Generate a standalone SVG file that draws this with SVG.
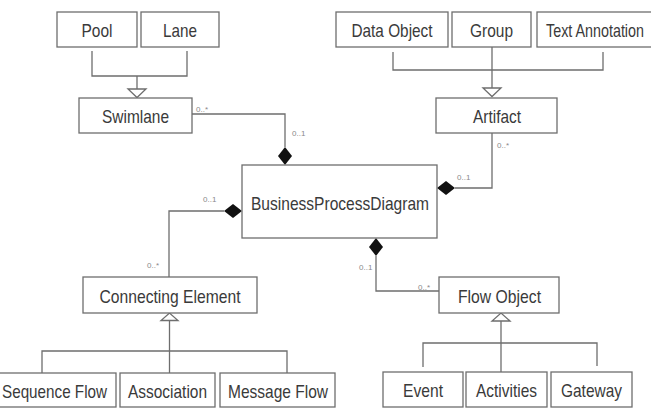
<svg xmlns="http://www.w3.org/2000/svg" width="651" height="417" viewBox="0 0 651 417">
<defs>
<style>
.box{fill:#fff;stroke:#6e6e6e;stroke-width:1.3}
.t{font-family:"Liberation Sans",Arial,sans-serif;font-size:19px;fill:#3a3a3a;text-anchor:middle}
.lbl{font-family:"Liberation Sans",Arial,sans-serif;font-size:8px;fill:#8a8a8a}
.ln{fill:none;stroke:#6e6e6e;stroke-width:1.3}
.tri{fill:#fff;stroke:#6e6e6e;stroke-width:1.3}
.dia{fill:#111;stroke:none}
</style>
</defs>
<rect width="651" height="417" fill="#fff"/>
<g id="connectors">
<polyline class="ln" points="92,51 92,76 187,76 187,51"/>
<line class="ln" x1="137" y1="76" x2="137" y2="89"/>
<polygon class="tri" points="128,89 146,89 137,97.5"/>
<polyline class="ln" points="393,52 393,70 603,70 603,52"/>
<line class="ln" x1="492" y1="47" x2="492" y2="88"/>
<polygon class="tri" points="483,88 501,88 492,96.5"/>
<polyline class="ln" points="192,114 285,114 285,147"/>
<polygon class="dia" points="285,147 292,156 285,165 278,156"/>
<polyline class="ln" points="492,133 492,188 455,188"/>
<polygon class="dia" points="437,188 446,181 455,188 446,195"/>
<polyline class="ln" points="169,277 169,211 224,211"/>
<polygon class="dia" points="224,211 233,204 242,211 233,218"/>
<polyline class="ln" points="376,256 376,291 439,291"/>
<polygon class="dia" points="376,238 383,247 376,256 369,247"/>
<line class="ln" x1="169.5" y1="320" x2="169.5" y2="373"/>
<polygon class="tri" points="161,320.5 178,320.5 169.5,313"/>
<polyline class="ln" points="42,373 42,351 287,351 287,373"/>
<line class="ln" x1="501" y1="321" x2="501" y2="372"/>
<polygon class="tri" points="492,321 510,321 501,313"/>
<polyline class="ln" points="423,367 423,343 597,343 597,366"/>
<text class="lbl" x="196" y="112">0..*</text>
<text class="lbl" x="292" y="136">0..1</text>
<text class="lbl" x="497" y="148">0..*</text>
<text class="lbl" x="457" y="180">0..1</text>
<text class="lbl" x="203" y="202">0..1</text>
<text class="lbl" x="147" y="268">0..*</text>
<text class="lbl" x="359" y="270">0..1</text>
<text class="lbl" x="418" y="290">0..*</text>
</g>
<g id="pool"><rect class="box" x="57" y="12" width="80" height="35"/><text class="t" x="97" y="37" textLength="31" lengthAdjust="spacingAndGlyphs">Pool</text></g>
<g id="lane"><rect class="box" x="141" y="12" width="78" height="35"/><text class="t" x="180" y="37" textLength="34" lengthAdjust="spacingAndGlyphs">Lane</text></g>
<g id="swimlane"><rect class="box" x="79" y="98" width="113" height="35"/><text class="t" x="135.5" y="123" textLength="67" lengthAdjust="spacingAndGlyphs">Swimlane</text></g>
<g id="dataobject"><rect class="box" x="336" y="12" width="112" height="35"/><text class="t" x="392" y="37" textLength="81" lengthAdjust="spacingAndGlyphs">Data Object</text></g>
<g id="group"><rect class="box" x="452" y="12" width="79" height="35"/><text class="t" x="491.5" y="37" textLength="43" lengthAdjust="spacingAndGlyphs">Group</text></g>
<g id="textannotation"><rect class="box" x="537" y="12" width="129" height="35"/><text class="t" x="546" y="37" style="text-anchor:start" textLength="98" lengthAdjust="spacingAndGlyphs">Text Annotation</text></g>
<g id="artifact"><rect class="box" x="436" y="98" width="121" height="35"/><text class="t" x="497" y="123" textLength="48" lengthAdjust="spacingAndGlyphs">Artifact</text></g>
<g id="bpd"><rect class="box" x="242" y="165" width="195" height="73"/><text class="t" x="340" y="209.5" textLength="178" lengthAdjust="spacingAndGlyphs">BusinessProcessDiagram</text></g>
<g id="connectingelement"><rect class="box" x="83" y="277" width="174" height="36"/><text class="t" x="170" y="302.5" textLength="141" lengthAdjust="spacingAndGlyphs">Connecting Element</text></g>
<g id="flowobject"><rect class="box" x="439" y="277" width="120" height="36"/><text class="t" x="499.5" y="302.5" textLength="83" lengthAdjust="spacingAndGlyphs">Flow Object</text></g>
<g id="sequenceflow"><rect class="box" x="-2" y="373" width="118" height="34"/><text class="t" x="54.5" y="397.5" textLength="105" lengthAdjust="spacingAndGlyphs">Sequence Flow</text></g>
<g id="association"><rect class="box" x="120" y="373" width="95" height="34"/><text class="t" x="167.5" y="397.5" textLength="79" lengthAdjust="spacingAndGlyphs">Association</text></g>
<g id="messageflow"><rect class="box" x="220" y="373" width="115" height="34"/><text class="t" x="278" y="397.5" textLength="100" lengthAdjust="spacingAndGlyphs">Message Flow</text></g>
<g id="event"><rect class="box" x="383" y="372" width="80" height="35"/><text class="t" x="423" y="397" textLength="40" lengthAdjust="spacingAndGlyphs">Event</text></g>
<g id="activities"><rect class="box" x="466" y="372" width="81" height="35"/><text class="t" x="506.5" y="397" textLength="61" lengthAdjust="spacingAndGlyphs">Activities</text></g>
<g id="gateway"><rect class="box" x="551" y="372" width="81" height="35"/><text class="t" x="591.5" y="397" textLength="61" lengthAdjust="spacingAndGlyphs">Gateway</text></g>
</svg>
